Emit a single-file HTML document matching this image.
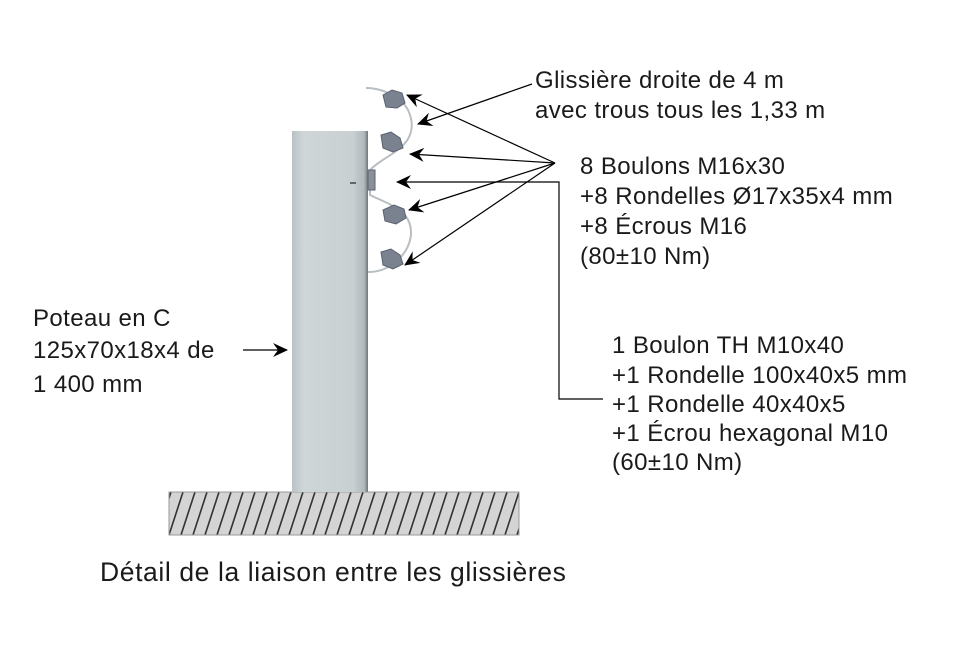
<!DOCTYPE html>
<html><head><meta charset="utf-8"><style>
html,body{margin:0;padding:0;background:#fff;}
svg{display:block;}
text{font-family:"Liberation Sans",sans-serif;fill:#1a1a1a;}
</style></head><body>
<svg width="965" height="651" viewBox="0 0 965 651" xmlns="http://www.w3.org/2000/svg">
<defs>
<marker id="ah" markerWidth="16" markerHeight="14" refX="14" refY="7" orient="auto" markerUnits="userSpaceOnUse">
<path d="M15,7 L0,0 L5,7 L0,14 Z" fill="#000"/>
</marker>
<pattern id="hatch" width="12" height="43" patternUnits="userSpaceOnUse" x="169" y="492">
<rect width="12" height="43" fill="#d4d4d4"/>
<line x1="14" y1="0" x2="0" y2="43" stroke="#333" stroke-width="1.6"/>
<line x1="2" y1="0" x2="-12" y2="43" stroke="#333" stroke-width="1.6"/>
<line x1="26" y1="0" x2="12" y2="43" stroke="#333" stroke-width="1.6"/>
</pattern>
<linearGradient id="post" x1="0" x2="1">
<stop offset="0" stop-color="#b8c2c6"/><stop offset="0.15" stop-color="#cfd6d8"/>
<stop offset="0.8" stop-color="#c9d0d2"/><stop offset="0.95" stop-color="#b0b8bc"/><stop offset="1" stop-color="#6d7579"/>
</linearGradient>
</defs>

<rect x="169" y="492" width="350" height="43" fill="url(#hatch)" stroke="#999" stroke-width="1"/>
<rect x="292" y="131" width="76" height="361" fill="url(#post)"/>
<rect x="350" y="182" width="6" height="2" fill="#666"/>

<path d="M366,88 C380,88 400,95 408,110 C415,125 412,138 400,148 C388,158 380,160 370,170 L370,195 C380,200 395,205 405,215 C415,228 412,245 400,258 C390,268 380,272 368,272" fill="none" stroke="#b8bec2" stroke-width="2"/>
<g fill="#7a8290" stroke="#5a6270" stroke-width="1">
<path d="M383,95 L392,90 L402,93 L405,103 L397,108 L386,107 Z"/>
<path d="M381,135 L391,132 L400,138 L403,148 L393,152 L383,148 Z"/>
<path d="M383,210 L394,205 L404,209 L406,218 L396,224 L385,221 Z"/>
<path d="M381,252 L391,249 L400,255 L403,264 L393,269 L383,265 Z"/>
<rect x="368" y="170" width="7" height="20" fill="#8a9098"/>
</g>

<g stroke="#000" stroke-width="1.2" fill="none">
<line x1="555" y1="163" x2="407" y2="95" marker-end="url(#ah)"/>
<line x1="555" y1="163" x2="410" y2="154" marker-end="url(#ah)"/>
<line x1="555" y1="163" x2="409" y2="210" marker-end="url(#ah)"/>
<line x1="555" y1="163" x2="405" y2="265" marker-end="url(#ah)"/>
<line x1="532" y1="84" x2="418" y2="124" marker-end="url(#ah)"/>
<polyline points="603,399 559,399 559,182 397,182" marker-end="url(#ah)"/>
<line x1="243" y1="350" x2="287" y2="350" marker-end="url(#ah)"/>
</g>

<g font-size="24" letter-spacing="0.4">
<text x="535" y="88">Glissière droite de 4 m</text>
<text x="535" y="118">avec trous tous les 1,33 m</text>
<text x="580" y="174">8 Boulons M16x30</text>
<text x="580" y="204">+8 Rondelles Ø17x35x4 mm</text>
<text x="580" y="234">+8 Écrous M16</text>
<text x="580" y="264">(80±10 Nm)</text>
<text x="612" y="353">1 Boulon TH M10x40</text>
<text x="612" y="383">+1 Rondelle 100x40x5 mm</text>
<text x="612" y="412">+1 Rondelle 40x40x5</text>
<text x="612" y="441">+1 Écrou hexagonal M10</text>
<text x="612" y="470">(60±10 Nm)</text>
<text x="33" y="326">Poteau en C</text>
<text x="33" y="358">125x70x18x4 de</text>
<text x="33" y="392">1 400 mm</text>
</g>
<text x="100" y="581" font-size="26.5" letter-spacing="0.6">Détail de la liaison entre les glissières</text>
</svg>
</body></html>
